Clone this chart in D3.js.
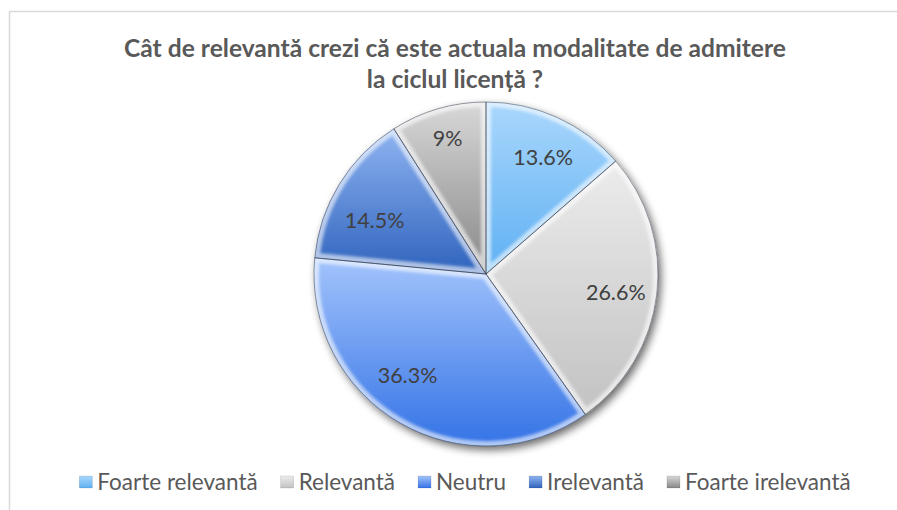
<!DOCTYPE html>
<html>
<head>
<meta charset="utf-8">
<script src="https://cdn.jsdelivr.net/npm/d3@7"></script>
<style>
  html, body { margin: 0; padding: 0; background: #fff; }
  svg { display: block; }
</style>
</head>
<body>
<svg id="chart" width="897" height="510"></svg>
<script>
// Survey answers and their shares (percent)
const categories = ["Foarte relevantă", "Relevantă", "Neutru", "Irelevantă", "Foarte irelevantă"];
const values = [13.6, 26.6, 36.3, 14.5, 9];
const valueLabels = ["13.6%", "26.6%", "36.3%", "14.5%", "9%"];
const titleLines = ["Cât de relevantă crezi că este actuala modalitate de admitere", "la ciclul licență ?"];

// Gradient stops (top, bottom) for each slice
const sliceColors = [
  ["#aad7fc", "#5eb0f3"],
  ["#ececec", "#c2c2c2"],
  ["#a3c4fc", "#3473e6"],
  ["#8fb4f1", "#2f63bd"],
  ["#d8d8d8", "#878787"]
];

const W = 897, H = 510;
const cx = 486, cy = 274, R = 172;
const FONT = "Lato, 'Open Sans', sans-serif";

const svg = d3.select("#chart");
const defs = svg.append("defs");

// Frame of the chart area
svg.append("rect")
  .attr("x", 9.5).attr("y", 11.5)
  .attr("width", W + 10).attr("height", H + 10)
  .attr("fill", "#fff")
  .attr("stroke", "#d9d9d9")
  .attr("stroke-width", 1.5);

// Gradients
sliceColors.forEach((c, i) => {
  const g = defs.append("linearGradient")
    .attr("id", "grad" + i)
    .attr("x1", 0).attr("y1", 0).attr("x2", 0).attr("y2", 1);
  g.append("stop").attr("offset", "0%").attr("stop-color", c[0]);
  g.append("stop").attr("offset", "100%").attr("stop-color", c[1]);
});

// Soft drop shadow under the pie
const shadow = defs.append("filter").attr("id", "shadow")
  .attr("x", "-20%").attr("y", "-20%").attr("width", "140%").attr("height", "140%");
shadow.append("feGaussianBlur").attr("in", "SourceAlpha").attr("stdDeviation", 4).attr("result", "b");
shadow.append("feOffset").attr("in", "b").attr("dx", 3).attr("dy", 4).attr("result", "o");
shadow.append("feComponentTransfer").attr("in", "o").attr("result", "s")
  .append("feFuncA").attr("type", "linear").attr("slope", 0.6);
const merge = shadow.append("feMerge");
merge.append("feMergeNode").attr("in", "s");
merge.append("feMergeNode").attr("in", "SourceGraphic");

// Blur used for the bevel highlight
defs.append("filter").attr("id", "soft")
  .append("feGaussianBlur").attr("stdDeviation", 1.6);

const pie = d3.pie().sort(null).value(d => d)(values);
const arc = d3.arc().innerRadius(0).outerRadius(R);
const labelArc = d3.arc().innerRadius(R * 0.76).outerRadius(R * 0.76);

const g = svg.append("g").attr("transform", `translate(${cx},${cy})`);

// Pie body with shadow
const body = g.append("g").attr("filter", "url(#shadow)");
body.selectAll("path.slice")
  .data(pie)
  .join("path")
  .attr("class", "slice")
  .attr("d", arc)
  .attr("fill", (d, i) => `url(#grad${i})`);

// Bevel: blurred light rim clipped to each slice
pie.forEach((d, i) => {
  defs.append("clipPath").attr("id", "clip" + i)
    .append("path").attr("d", arc(d));
});
g.selectAll("path.bevel")
  .data(pie)
  .join("path")
  .attr("class", "bevel")
  .attr("d", arc)
  .attr("clip-path", (d, i) => `url(#clip${i})`)
  .attr("fill", "none")
  .attr("stroke", "#ffffff")
  .attr("stroke-opacity", 0.6)
  .attr("stroke-width", 10)
  .attr("stroke-linejoin", "round")
  .attr("filter", "url(#soft)");

// Thin dark outline of each slice
g.selectAll("path.edge")
  .data(pie)
  .join("path")
  .attr("class", "edge")
  .attr("d", arc)
  .attr("fill", "none")
  .attr("stroke", "rgba(30,40,60,0.5)")
  .attr("stroke-width", 0.9)
  .attr("stroke-linejoin", "round");

// Data labels (small nudges keep them clear of slice edges)
const labelNudge = [[3, 2], [0, 2], [-13, -12], [0, 14], [-2, -10]];
g.selectAll("text.val")
  .data(pie)
  .join("text")
  .attr("class", "val")
  .attr("transform", (d, i) => {
    const c = labelArc.centroid(d);
    return `translate(${c[0] + labelNudge[i][0]},${c[1] + labelNudge[i][1]})`;
  })
  .attr("text-anchor", "middle")
  .attr("dominant-baseline", "central")
  .attr("font-family", FONT)
  .attr("font-size", 21.5)
  .attr("fill", "#404040")
  .text((d, i) => valueLabels[i]);

// Title
svg.append("text")
  .attr("x", 455).attr("y", 57)
  .attr("text-anchor", "middle")
  .attr("font-family", FONT)
  .attr("font-weight", "bold")
  .attr("font-size", 24.6)
  .attr("fill", "#595959")
  .selectAll("tspan")
  .data(titleLines)
  .join("tspan")
  .attr("x", 455)
  .attr("dy", (d, i) => i === 0 ? 0 : 31)
  .text(d => d);

// Legend, centred along the bottom
const legend = svg.append("g");
const items = legend.selectAll("g.item").data(categories).join("g").attr("class", "item");
items.append("rect")
  .attr("width", 13).attr("height", 12)
  .attr("y", -5)
  .attr("fill", (d, i) => `url(#grad${i})`)
  .attr("stroke", "rgba(0,0,0,0.2)")
  .attr("stroke-width", 0.5);
items.append("text")
  .attr("x", 18)
  .attr("dominant-baseline", "central")
  .attr("font-family", FONT)
  .attr("font-size", 22.5)
  .attr("fill", "#595959")
  .text(d => d);

const gap = 23;
let xpos = 0;
const offsets = [];
items.each(function () {
  offsets.push(xpos);
  const tw = d3.select(this).select("text").node().getComputedTextLength();
  xpos += 18 + tw + gap;
});
const totalW = xpos - gap;
const legendX = 465 - totalW / 2;
items.attr("transform", (d, i) => `translate(${legendX + offsets[i]},481)`);
</script>
</body>
</html>
